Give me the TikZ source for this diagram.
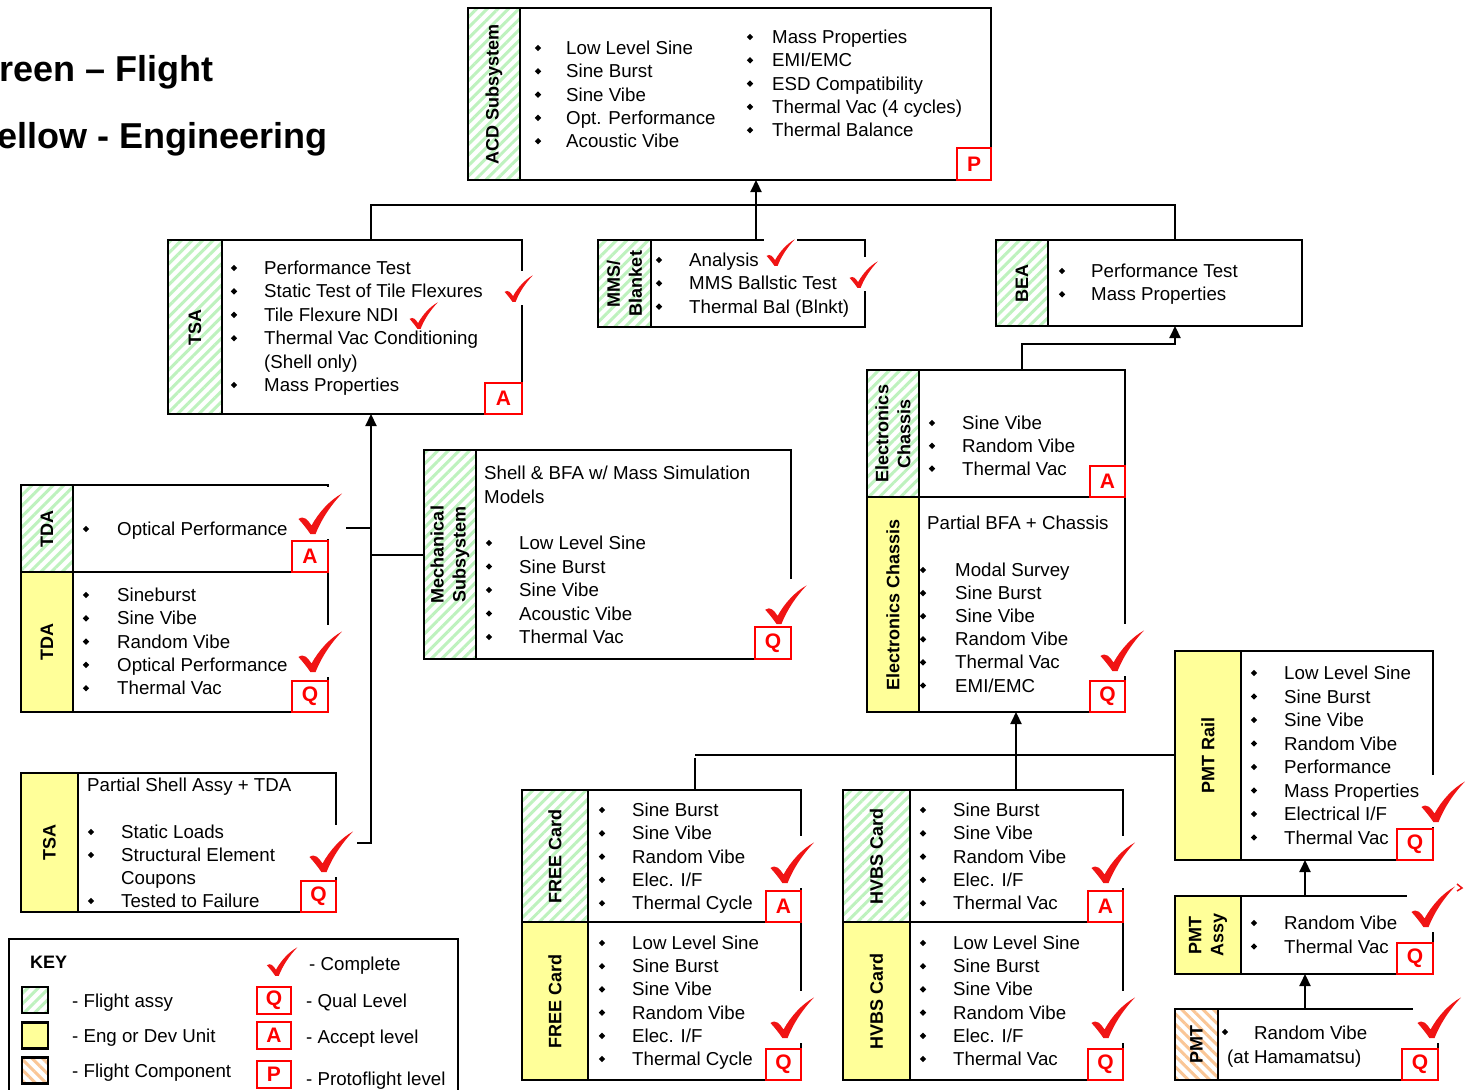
\documentclass[tikz,border=0pt]{standalone}
\usepackage{fontspec}
\setmainfont{Liberation Sans}
\usetikzlibrary{arrows.meta,patterns.meta}
\definecolor{hgreen}{RGB}{190,242,190}
\definecolor{eyellow}{RGB}{255,255,153}
\definecolor{horange}{RGB}{250,198,150}
\definecolor{chkred}{RGB}{240,20,20}
\newcommand\mkpanel[8]{%
  \node[boxst, minimum width={#4-#2}, minimum height={#5-#3}, anchor=north west] (#1) at (#2,#3) {};
  \node[#7, minimum width={#6-#2}, minimum height={#5-#3}, anchor=north west] (#1s) at (#2,#3) {};
  \node[lab] (#1l) at ({(#2+#6)/2},{(#3+#5)/2}) {#8};
}
\newcommand\itemlist[6]{%
  \foreach \txt [count=\i from 0] in {#6} {
    \fill ({#2},{#4+#5*\i}) ++(-3.2,0) -- ++(3.2,-3.2) -- ++(3.2,3.2) -- ++(-3.2,3.2) -- cycle;
    \node[itm] (#1-\i) at ({#3},{#4+#5*\i+6.5}) {\txt};
  }}
\newcommand\bul[2]{\fill (#1,#2) ++(-3.2,0) -- ++(3.2,-3.2) -- ++(3.2,3.2) -- ++(-3.2,3.2) -- cycle;}
\begin{document}
\begin{tikzpicture}[x=1pt,y=-1pt,
  boxst/.style={rectangle,draw=black,line width=2.2pt,fill=white,inner sep=0pt,outer sep=0pt},
  gstrip/.style={rectangle,draw=black,line width=2.2pt,inner sep=0pt,outer sep=0pt,
     pattern={Lines[angle=45,distance=7.5pt,line width=3pt]},pattern color=hgreen},
  ystrip/.style={rectangle,draw=black,line width=2.2pt,inner sep=0pt,outer sep=0pt,fill=eyellow},
  ostrip/.style={rectangle,draw=black,line width=2.2pt,inner sep=0pt,outer sep=0pt,
     pattern={Lines[angle=-45,distance=7.5pt,line width=3pt]},pattern color=horange},
  lab/.style={rotate=90,font=\bfseries\fontsize{18}{22}\selectfont,align=center,inner sep=0pt},
  itm/.style={anchor=base west,inner sep=0pt,font=\fontsize{18.7}{22}\selectfont},
  badge/.style={rectangle,draw=red,line width=2pt,fill=white,text=red,
     font=\bfseries\fontsize{21}{21}\selectfont,minimum width=35,minimum height=31,
     inner sep=0pt,outer sep=0pt,anchor=south east},
  conn/.style={line width=2.2pt,draw=black},
  arr/.style={conn,-{Triangle[length=12pt,width=11pt]}},
  chkbg/.pic={\fill[white] (-19,-46) rectangle (33,6);},
  chkmark/.pic={\fill[chkred] (-14.5,-14) .. controls (-9,-18) and (-5,-13) .. (-1.5,-7.5)
      .. controls (6,-21) and (17,-33) .. (29,-39.5)
      .. controls (18,-28) and (8.5,-14) .. (2.5,1.2) -- (-2.5,1.2)
      .. controls (-6,-4) and (-10,-9) .. (-14.5,-14) -- cycle;}
  ]
\useasboundingbox (0,0) rectangle (1465,1090);

% ---------- titles
\node[anchor=base west,inner sep=0pt,font=\bfseries\fontsize{36}{36}\selectfont] (tgreen) at (-29,81) {Green – Flight};
\node[anchor=base west,inner sep=0pt,font=\bfseries\fontsize{36}{36}\selectfont] (tyellow) at (-25,148) {Yellow - Engineering};

% ---------- connector coordinates
\coordinate (jL) at (371,205);
\coordinate (jR) at (1175,205);
\coordinate (jM) at (756,205);
\coordinate (jE1) at (1022,344);
\coordinate (jE2) at (1175,344);
\coordinate (jF) at (695,755);
\coordinate (jH) at (1016,755);
\coordinate (jP) at (1305,900);
\coordinate (jT) at (371,843);
\coordinate (jD) at (371,528);
\coordinate (jMe) at (371,555);

% ---------- panels
\mkpanel{acd}{468}{8}{991}{180}{520}{gstrip}{ACD Subsystem}
\mkpanel{tsaF}{168}{240}{522}{414}{222}{gstrip}{TSA}
\mkpanel{mms}{598}{240}{865}{327}{651}{gstrip}{MMS/\\Blanket}
\mkpanel{bea}{996}{240}{1302}{326}{1048}{gstrip}{BEA}
\mkpanel{ecF}{867}{370}{1125}{497}{919}{gstrip}{Electronics\\Chassis}
\mkpanel{ecY}{867}{497}{1125}{712}{919}{ystrip}{Electronics Chassis}
\mkpanel{freeF}{522}{790}{801}{922}{588}{gstrip}{FREE Card}
\mkpanel{freeY}{522}{922}{801}{1080}{588}{ystrip}{FREE Card}
\mkpanel{hvF}{843}{790}{1123}{922}{910}{gstrip}{HVBS Card}
\mkpanel{hvY}{843}{922}{1123}{1080}{910}{ystrip}{HVBS Card}
\mkpanel{rail}{1175}{651}{1433}{860}{1241}{ystrip}{PMT Rail}
\mkpanel{assy}{1175}{896}{1433}{974}{1241}{ystrip}{PMT\\Assy}
\mkpanel{pmt}{1175}{1009}{1438}{1080}{1218}{ostrip}{PMT}
\mkpanel{tdaF}{21}{485}{328}{572}{73}{gstrip}{TDA}
\mkpanel{tdaY}{21}{572}{328}{712}{73}{ystrip}{TDA}
\mkpanel{mech}{424}{450}{791}{659}{476}{gstrip}{Mechanical\\Subsystem}
\mkpanel{tsaY}{21}{773}{336}{912}{78}{ystrip}{TSA}

% ---------- connectors
\draw[conn] (tsaF.north -| jL) -- (jL) -- (jR) -- (bea.north -| jR);
\draw[arr] (mms.north -| jM) -- (acd.south -| jM);
\draw[arr] (ecF.north -| jE1) -- (jE1) -- (jE2) -- (bea.south -| jE2);
\draw[conn] (freeF.north -| jF) -- ([yshift=-3pt]jF);
\draw[conn] (jF) -- (jF -| rail.west);
\draw[arr] (hvF.north -| jH) -- (ecY.south -| jH);
\draw[arr] (assy.north -| jP) -- (rail.south -| jP);
\draw[arr] (pmt.north -| jP) -- (assy.south -| jP);
\draw[arr] (tsaY.east |- jT) -- (jT) -- (tsaF.south -| jT);
\draw[conn] (tdaF.east |- jD) -- (jD);
\draw[conn] (jMe) -- (mech.west |- jMe);

% ---------- key box
\node[boxst,line width=1.5pt,anchor=north west,minimum width=449,minimum height=180] (key) at (9,939) {};
\node[gstrip,minimum width=26,minimum height=26] (k1) at (35,1000) {};
\node[ystrip,minimum width=26,minimum height=26] (k2) at (35,1035.5) {};
\node[ostrip,minimum width=26,minimum height=26] (k3) at (35,1070.5) {};

% ---------- check backgrounds
\def\chks{514/301/0.65, 419/328/0.65, 776/265/0.65, 859/287/0.65, 313/533/1, 313/671/1, 779/623/0.95, 324/871/1, 1115/670/1, 785/882/1, 785/1037/1, 1106/882/1, 1106/1037/1, 1436/821/1, 1426/926/1, 1432/1037/1, 277/975/0.7}
\foreach \px/\py/\ps in \chks {\pic[scale=\ps] at (\px,\py) {chkbg};}

% ---------- texts
\itemlist{acdA}{538}{566}{48}{23.3}{Low Level Sine,Sine Burst,Sine Vibe,Opt. Performance,Acoustic Vibe}
\itemlist{acdB}{750}{772}{37}{23.3}{Mass Properties,EMI/EMC,ESD Compatibility,Thermal Vac (4 cycles),Thermal Balance}

\itemlist{tsaFt}{234}{264}{268}{23.4}{Performance Test,Static Test of Tile Flexures,Tile Flexure NDI,Thermal Vac Conditioning}
\node[itm] (tsaFs) at (264,368.5) {(Shell only)};
\bul{234}{385}
\node[itm] (tsaFm) at (264,391.5) {Mass Properties};

\itemlist{mmst}{659}{689}{260}{23.3}{Analysis,MMS Ballstic Test,Thermal Bal (Blnkt)}
\itemlist{beat}{1062}{1091}{271}{23.3}{Performance Test,Mass Properties}

\itemlist{ecFt}{932}{962}{423}{22.8}{Sine Vibe,Random Vibe,Thermal Vac}
\node[itm] (ecYh) at (927,529.5) {Partial BFA + Chassis};
\itemlist{ecYt}{923}{955}{570}{23.1}{Modal Survey,Sine Burst,Sine Vibe,Random Vibe,Thermal Vac,EMI/EMC}

\itemlist{freeFt}{602}{632}{810}{23.3}{Sine Burst,Sine Vibe,Random Vibe,Elec. I/F,Thermal Cycle}
\itemlist{freeYt}{602}{632}{943}{23.2}{Low Level Sine,Sine Burst,Sine Vibe,Random Vibe,Elec. I/F,Thermal Cycle}
\itemlist{hvFt}{923}{953}{810}{23.3}{Sine Burst,Sine Vibe,Random Vibe,Elec. I/F,Thermal Vac}
\itemlist{hvYt}{923}{953}{943}{23.2}{Low Level Sine,Sine Burst,Sine Vibe,Random Vibe,Elec. I/F,Thermal Vac}

\itemlist{railt}{1254}{1284}{673}{23.5}{Low Level Sine,Sine Burst,Sine Vibe,Random Vibe,Performance,Mass Properties,Electrical I/F,Thermal Vac}
\itemlist{assyt}{1254}{1284}{923}{23.5}{Random Vibe,Thermal Vac}
\bul{1225}{1032}
\node[itm] (pmtt1) at (1254,1039.5) {Random Vibe};
\node[itm] (pmtt2) at (1227,1063.5) {(at Hamamatsu)};

\itemlist{tdaFt}{86}{117}{529}{23.3}{Optical Performance}
\itemlist{tdaYt}{86}{117}{595}{23.3}{Sineburst,Sine Vibe,Random Vibe,Optical Performance,Thermal Vac}

\node[itm] (mechh1) at (484,479.5) {Shell \& BFA w/ Mass Simulation};
\node[itm] (mechh2) at (484,503.5) {Models};
\itemlist{mecht}{489}{519}{543}{23.5}{Low Level Sine,Sine Burst,Sine Vibe,Acoustic Vibe,Thermal Vac}

\node[itm] (tsaYh) at (87,791.5) {Partial Shell Assy + TDA};
\bul{91}{832}
\node[itm] (tsaY1) at (121,838.5) {Static Loads};
\bul{91}{855}
\node[itm] (tsaY2) at (121,861.5) {Structural Element};
\node[itm] (tsaY3) at (121,884) {Coupons};
\bul{91}{901}
\node[itm] (tsaY4) at (121,907.5) {Tested to Failure};

% key texts
\node[itm,font=\bfseries\fontsize{18}{22}\selectfont] (keyt) at (30,968.5) {KEY};
\node[itm] (kt1) at (72,1007.5) {- Flight assy};
\node[itm] (kt2) at (72,1042.5) {- Eng or Dev Unit};
\node[itm] (kt3) at (72,1077.5) {- Flight Component};
\node[itm] (kt4) at (309,970.5) {- Complete};
\node[itm] (kt5) at (306,1007.5) {- Qual Level};
\node[itm] (kt6) at (306,1043.5) {- Accept level};
\node[itm] (kt7) at (306,1085.5) {- Protoflight level};

% ---------- check marks
\foreach \px/\py/\ps in \chks {\pic[scale=\ps] at (\px,\py) {chkmark};}
\draw[chkred,line width=1.5pt] (1457,884) -- (1462,888) -- (1457,891);

% ---------- badges
\node[badge,minimum width=34,minimum height=32] (acdP) at (acd.south east) {P};
\node[badge,minimum width=37] (tsaFA) at (tsaF.south east) {A};
\node[badge,minimum width=36] (tdaFA) at (tdaF.south east) {A};
\node[badge,minimum width=36] (tdaYQ) at (tdaY.south east) {Q};
\node[badge,minimum width=36,minimum height=32] (mechQ) at (mech.south east) {Q};
\node[badge] (tsaYQ) at (tsaY.south east) {Q};
\node[badge] (ecFA) at (ecF.south east) {A};
\node[badge] (ecYQ) at (ecY.south east) {Q};
\node[badge] (freeFA) at (freeF.south east) {A};
\node[badge] (freeYQ) at (freeY.south east) {Q};
\node[badge] (hvFA) at (hvF.south east) {A};
\node[badge] (hvYQ) at (hvY.south east) {Q};
\node[badge,minimum width=36] (railQ) at (rail.south east) {Q};
\node[badge,minimum width=36] (assyQ) at (assy.south east) {Q};
\node[badge,minimum width=36] (pmtQ) at (pmt.south east) {Q};
\node[badge,anchor=center,minimum width=34,minimum height=27] (kQ) at (274,1000.5) {Q};
\node[badge,anchor=center,minimum width=34,minimum height=27] (kA) at (274,1035.5) {A};
\node[badge,anchor=center,minimum width=34,minimum height=27] (kP) at (274,1074.5) {P};
\end{tikzpicture}
\end{document}
